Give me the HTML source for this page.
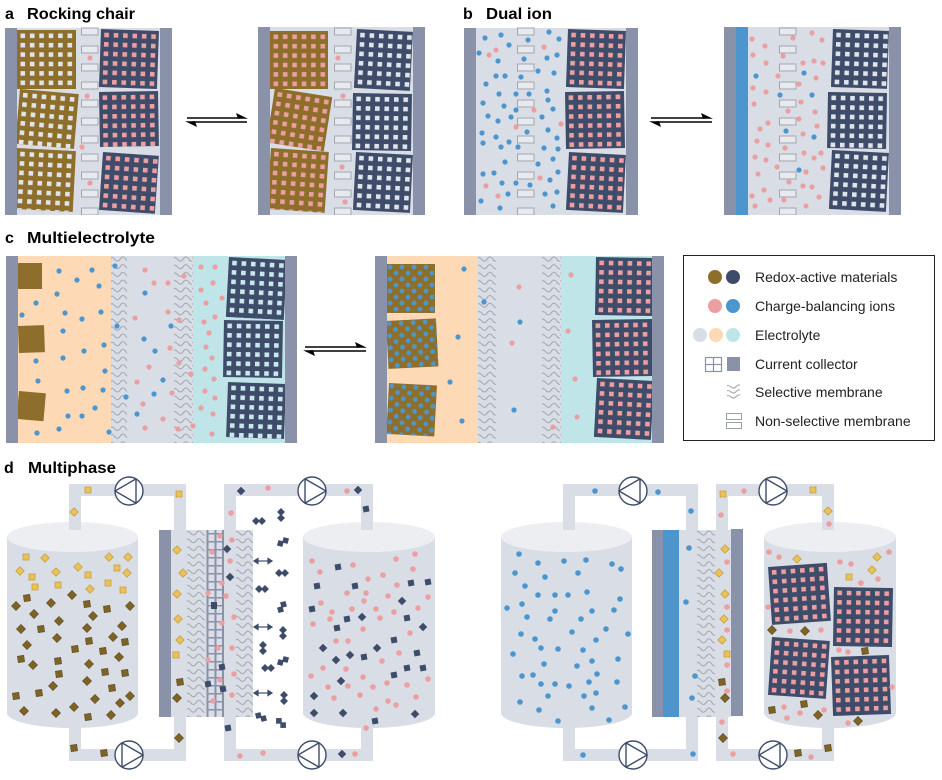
<!DOCTYPE html>
<html><head><meta charset="utf-8"><style>
html,body{margin:0;padding:0;background:#fff;}
body{width:942px;height:780px;overflow:hidden;}
svg{display:block;}
text{font-family:"Liberation Sans",Arial,sans-serif;}
</style></head><body>
<svg width="942" height="780" viewBox="0 0 942 780" xmlns="http://www.w3.org/2000/svg">
<defs>
<pattern id="pL" patternUnits="userSpaceOnUse" x="3.5" y="3.5" width="9.4" height="9.4"><rect width="4.6" height="4.6" fill="#dfe3ea"/></pattern>
<pattern id="pP" patternUnits="userSpaceOnUse" x="3.5" y="3.5" width="9.4" height="9.4"><rect width="4.6" height="4.6" fill="#ec9fa1"/></pattern>
<pattern id="pC" patternUnits="userSpaceOnUse" x="3.5" y="3.5" width="9.4" height="9.4"><rect width="4.6" height="4.6" fill="#c8e8ec"/></pattern>
<pattern id="pX" patternUnits="userSpaceOnUse" width="12" height="12"><circle cx="3" cy="3" r="2.4" fill="#4c96cd"/><circle cx="9" cy="9" r="2.4" fill="#4c96cd"/></pattern>
<pattern id="zz" patternUnits="userSpaceOnUse" width="18" height="7.7"><path d="M0,2 C3,0 4,6 7,5 C10,4 9,1 12,1 C15,1 15,6 18,5" fill="none" stroke="#9a9fa8" stroke-width="0.9"/></pattern>
<pattern id="ns" patternUnits="userSpaceOnUse" width="18" height="18"><rect x="0.5" y="1" width="16.5" height="7" fill="#e6e9ee" stroke="#a2a6ad" stroke-width="1"/></pattern>
<pattern id="mesh" patternUnits="userSpaceOnUse" width="18" height="8"><rect x="0" y="3" width="18" height="1.5" fill="#8a92aa"/></pattern>
<rect id="gq" x="-3" y="-3" width="6" height="6" fill="#e9c35a" stroke="#c7a03e" stroke-width="0.8"/>
<rect id="gd" x="-3" y="-3" width="6" height="6" fill="#e9c35a" stroke="#c7a03e" stroke-width="0.8" transform="rotate(45)"/>
<rect id="bq" x="-3.2" y="-3.2" width="6.4" height="6.4" fill="#7e6327" stroke="#5f4a1c" stroke-width="0.6" transform="rotate(-8)"/>
<rect id="bd" x="-3.2" y="-3.2" width="6.4" height="6.4" fill="#7e6327" stroke="#5f4a1c" stroke-width="0.6" transform="rotate(45)"/>
<rect id="nq" x="-3" y="-3" width="6" height="6" fill="#3e4c6a" transform="rotate(-10)"/>
<rect id="nd" x="-3" y="-3" width="6" height="6" fill="#3e4c6a" transform="rotate(45)"/>
<g id="np"><rect x="-2.8" y="-2.8" width="5.6" height="5.6" fill="#3e4c6a" transform="translate(-3,0) rotate(45)"/><rect x="-2.8" y="-2.8" width="5.6" height="5.6" fill="#3e4c6a" transform="translate(3,0) rotate(45)"/></g>
<g id="pumpL"><circle r="14" fill="#fff" stroke="#3e4c6a" stroke-width="1.4"/><polygon points="-14,0 7,-12.1 7,12.1" fill="#fff" stroke="#3e4c6a" stroke-width="1.4" stroke-linejoin="round"/></g>
<g id="pumpR"><circle r="14" fill="#fff" stroke="#3e4c6a" stroke-width="1.4"/><polygon points="14,0 -7,-12.1 -7,12.1" fill="#fff" stroke="#3e4c6a" stroke-width="1.4" stroke-linejoin="round"/></g>
</defs>

<!-- Titles -->
<text x="5" y="19" font-size="16" font-weight="bold" fill="#000">a</text>
<text x="27" y="19" font-size="16" font-weight="bold" fill="#000" textLength="108" lengthAdjust="spacingAndGlyphs">Rocking chair</text>
<text x="463" y="19" font-size="16" font-weight="bold" fill="#000">b</text>
<text x="486" y="19" font-size="16" font-weight="bold" fill="#000" textLength="66" lengthAdjust="spacingAndGlyphs">Dual ion</text>
<text x="5" y="243" font-size="16" font-weight="bold" fill="#000">c</text>
<text x="27" y="243" font-size="16" font-weight="bold" fill="#000" textLength="128" lengthAdjust="spacingAndGlyphs">Multielectrolyte</text>
<text x="4" y="473" font-size="16" font-weight="bold" fill="#000">d</text>
<text x="28" y="473" font-size="16" font-weight="bold" fill="#000" textLength="88" lengthAdjust="spacingAndGlyphs">Multiphase</text>

<!-- ===== Panel a, cell 1 ===== -->
<rect x="5" y="28" width="167" height="187" fill="#d9dde6"/>
<g transform="translate(17,30)"><rect width="59" height="59" fill="#8d6e2a"/><rect width="59" height="59" fill="url(#pL)"/></g>
<g transform="translate(20,89) rotate(5)"><rect width="59" height="55" fill="#8d6e2a"/><rect width="59" height="55" fill="url(#pL)"/></g>
<g transform="translate(17,148) rotate(3)"><rect width="59" height="61" fill="#8d6e2a"/><rect width="59" height="61" fill="url(#pL)"/></g>
<g transform="translate(101,29) rotate(2)"><rect width="58" height="58" fill="#3e4c6a"/><rect width="58" height="58" fill="url(#pP)"/></g>
<g transform="translate(99,92) rotate(-1)"><rect width="59" height="55" fill="#3e4c6a"/><rect width="59" height="55" fill="url(#pP)"/></g>
<g transform="translate(103,152) rotate(4)"><rect width="56" height="58" fill="#3e4c6a"/><rect width="56" height="58" fill="url(#pP)"/></g>
<g transform="translate(81,27)"><rect width="18" height="188" fill="url(#ns)"/></g>
<g fill="#ec9fa1"><circle cx="90" cy="58" r="2.6"/><circle cx="87" cy="96" r="2.6"/><circle cx="82" cy="147" r="2.6"/><circle cx="90" cy="183" r="2.6"/></g>
<rect x="5" y="28" width="12" height="187" fill="#8a92aa"/>
<rect x="160" y="28" width="12" height="187" fill="#8a92aa"/>

<!-- arrow a -->
<g stroke="#000" stroke-width="1.5"><line x1="187" y1="118" x2="240" y2="118"/><line x1="192" y1="122" x2="247" y2="122"/></g>
<polygon points="248,118.8 236,113 238,118.8" fill="#000"/>
<polygon points="185,121.2 197,127 195,121.2" fill="#000"/>

<!-- ===== Panel a, cell 2 ===== -->
<rect x="258" y="27" width="167" height="188" fill="#d9dde6"/>
<g transform="translate(270,31)"><rect width="58" height="58" fill="#8d6e2a"/><rect width="58" height="58" fill="url(#pP)"/></g>
<g transform="translate(275,88) rotate(9)"><rect width="58" height="55" fill="#8d6e2a"/><rect width="58" height="55" fill="url(#pP)"/></g>
<g transform="translate(271,148) rotate(4)"><rect width="58" height="61" fill="#8d6e2a"/><rect width="58" height="61" fill="url(#pP)"/></g>
<g transform="translate(357,29) rotate(3)"><rect width="56" height="59" fill="#3e4c6a"/><rect width="56" height="59" fill="url(#pL)"/></g>
<g transform="translate(353,93) rotate(1)"><rect width="59" height="57" fill="#3e4c6a"/><rect width="59" height="57" fill="url(#pL)"/></g>
<g transform="translate(356,152) rotate(3)"><rect width="57" height="58" fill="#3e4c6a"/><rect width="57" height="58" fill="url(#pL)"/></g>
<g transform="translate(334,27)"><rect width="18" height="188" fill="url(#ns)"/></g>
<g fill="#ec9fa1"><circle cx="338" cy="58" r="2.6"/><circle cx="343" cy="96" r="2.6"/><circle cx="342" cy="167" r="2.6"/><circle cx="345" cy="202" r="2.6"/></g>
<rect x="258" y="27" width="12" height="188" fill="#8a92aa"/>
<rect x="413" y="27" width="12" height="188" fill="#8a92aa"/>

<!-- ===== Panel b, cell 1 ===== -->
<rect x="464" y="28" width="174" height="187" fill="#d9dde6"/>
<g transform="translate(568,29) rotate(2)"><rect width="58" height="58" fill="#3e4c6a"/><rect width="58" height="58" fill="url(#pP)"/></g>
<g transform="translate(565,92) rotate(-1)"><rect width="59" height="57" fill="#3e4c6a"/><rect width="59" height="57" fill="url(#pP)"/></g>
<g transform="translate(569,152) rotate(3)"><rect width="57" height="58" fill="#3e4c6a"/><rect width="57" height="58" fill="url(#pP)"/></g>
<g transform="translate(517,27)"><rect width="18" height="188" fill="url(#ns)"/></g>
<g fill="#4c96cd">
<circle cx="485" cy="38" r="2.6"/><circle cx="501" cy="35" r="2.6"/><circle cx="509" cy="45" r="2.6"/><circle cx="528" cy="40" r="2.6"/><circle cx="549" cy="32" r="2.6"/><circle cx="559" cy="39" r="2.6"/><circle cx="479" cy="53" r="2.6"/><circle cx="498" cy="61" r="2.6"/><circle cx="524" cy="59" r="2.6"/><circle cx="547" cy="58" r="2.6"/><circle cx="557" cy="55" r="2.6"/><circle cx="496" cy="76" r="2.6"/><circle cx="505" cy="76" r="2.6"/><circle cx="521" cy="77" r="2.6"/><circle cx="538" cy="71" r="2.6"/><circle cx="554" cy="73" r="2.6"/><circle cx="486" cy="84" r="2.6"/><circle cx="499" cy="94" r="2.6"/><circle cx="516" cy="94" r="2.6"/><circle cx="529" cy="94" r="2.6"/><circle cx="547" cy="91" r="2.6"/><circle cx="483" cy="103" r="2.6"/><circle cx="504" cy="106" r="2.6"/><circle cx="516" cy="110" r="2.6"/><circle cx="548" cy="100" r="2.6"/><circle cx="553" cy="109" r="2.6"/><circle cx="488" cy="116" r="2.6"/><circle cx="498" cy="121" r="2.6"/><circle cx="511" cy="117" r="2.6"/><circle cx="542" cy="117" r="2.6"/><circle cx="482" cy="133" r="2.6"/><circle cx="496" cy="137" r="2.6"/><circle cx="509" cy="142" r="2.6"/><circle cx="527" cy="132" r="2.6"/><circle cx="548" cy="130" r="2.6"/><circle cx="483" cy="143" r="2.6"/><circle cx="501" cy="147" r="2.6"/><circle cx="518" cy="147" r="2.6"/><circle cx="544" cy="148" r="2.6"/><circle cx="557" cy="138" r="2.6"/><circle cx="558" cy="149" r="2.6"/><circle cx="505" cy="162" r="2.6"/><circle cx="538" cy="164" r="2.6"/><circle cx="553" cy="159" r="2.6"/><circle cx="483" cy="174" r="2.6"/><circle cx="494" cy="173" r="2.6"/><circle cx="502" cy="183" r="2.6"/><circle cx="516" cy="183" r="2.6"/><circle cx="530" cy="185" r="2.6"/><circle cx="550" cy="180" r="2.6"/><circle cx="558" cy="172" r="2.6"/><circle cx="481" cy="201" r="2.6"/><circle cx="508" cy="194" r="2.6"/><circle cx="545" cy="194" r="2.6"/><circle cx="557" cy="192" r="2.6"/><circle cx="500" cy="208" r="2.6"/><circle cx="553" cy="206" r="2.6"/>
</g>
<g fill="#ec9fa1"><circle cx="489" cy="55" r="2.6"/><circle cx="496" cy="50" r="2.6"/><circle cx="544" cy="47" r="2.6"/><circle cx="534" cy="110" r="2.6"/><circle cx="516" cy="127" r="2.6"/><circle cx="561" cy="124" r="2.6"/><circle cx="540" cy="178" r="2.6"/><circle cx="486" cy="186" r="2.6"/><circle cx="498" cy="196" r="2.6"/></g>
<rect x="464" y="28" width="12" height="187" fill="#8a92aa"/>
<rect x="626" y="28" width="12" height="187" fill="#8a92aa"/>

<!-- arrow b -->
<g stroke="#000" stroke-width="1.5"><line x1="651" y1="118" x2="705" y2="118"/><line x1="656" y1="122" x2="712" y2="122"/></g>
<polygon points="713,118.8 701,113 703,118.8" fill="#000"/>
<polygon points="649,121.2 661,127 659,121.2" fill="#000"/>

<!-- ===== Panel b, cell 2 ===== -->
<rect x="724" y="27" width="177" height="188" fill="#d9dde6"/>
<rect x="736" y="27" width="12" height="188" fill="#4c96cd"/>
<g transform="translate(833,29) rotate(2)"><rect width="56" height="58" fill="#3e4c6a"/><rect width="56" height="58" fill="url(#pL)"/></g>
<g transform="translate(828,92) rotate(1)"><rect width="59" height="56" fill="#3e4c6a"/><rect width="59" height="56" fill="url(#pL)"/></g>
<g transform="translate(832,150) rotate(3)"><rect width="57" height="59" fill="#3e4c6a"/><rect width="57" height="59" fill="url(#pL)"/></g>
<g transform="translate(779,27)"><rect width="18" height="188" fill="url(#ns)"/></g>
<g fill="#ec9fa1">
<circle cx="752" cy="39" r="2.6"/><circle cx="765" cy="46" r="2.6"/><circle cx="753" cy="55" r="2.6"/><circle cx="766" cy="63" r="2.6"/><circle cx="778" cy="76" r="2.6"/><circle cx="753" cy="88" r="2.6"/><circle cx="766" cy="92" r="2.6"/><circle cx="754" cy="104" r="2.6"/><circle cx="793" cy="38" r="2.6"/><circle cx="812" cy="33" r="2.6"/><circle cx="822" cy="40" r="2.6"/><circle cx="783" cy="56" r="2.6"/><circle cx="803" cy="63" r="2.6"/><circle cx="814" cy="61" r="2.6"/><circle cx="823" cy="63" r="2.6"/><circle cx="816" cy="78" r="2.6"/><circle cx="799" cy="84" r="2.6"/><circle cx="801" cy="102" r="2.6"/><circle cx="788" cy="111" r="2.6"/><circle cx="815" cy="112" r="2.6"/><circle cx="799" cy="119" r="2.6"/><circle cx="817" cy="126" r="2.6"/><circle cx="768" cy="123" r="2.6"/><circle cx="760" cy="129" r="2.6"/><circle cx="803" cy="134" r="2.6"/><circle cx="757" cy="141" r="2.6"/><circle cx="768" cy="145" r="2.6"/><circle cx="785" cy="148" r="2.6"/><circle cx="804" cy="153" r="2.6"/><circle cx="821" cy="153" r="2.6"/><circle cx="814" cy="158" r="2.6"/><circle cx="755" cy="157" r="2.6"/><circle cx="766" cy="160" r="2.6"/><circle cx="777" cy="167" r="2.6"/><circle cx="806" cy="172" r="2.6"/><circle cx="823" cy="168" r="2.6"/><circle cx="758" cy="174" r="2.6"/><circle cx="789" cy="182" r="2.6"/><circle cx="803" cy="186" r="2.6"/><circle cx="812" cy="187" r="2.6"/><circle cx="764" cy="190" r="2.6"/><circle cx="752" cy="196" r="2.6"/><circle cx="770" cy="200" r="2.6"/><circle cx="784" cy="200" r="2.6"/><circle cx="819" cy="197" r="2.6"/><circle cx="755" cy="206" r="2.6"/><circle cx="806" cy="206" r="2.6"/>
</g>
<g fill="#4c96cd"><circle cx="756" cy="76" r="2.6"/><circle cx="804" cy="73" r="2.6"/><circle cx="780" cy="95" r="2.6"/><circle cx="812" cy="95" r="2.6"/><circle cx="786" cy="131" r="2.6"/><circle cx="814" cy="137" r="2.6"/><circle cx="799" cy="170" r="2.6"/></g>
<rect x="724" y="27" width="12" height="188" fill="#8a92aa"/>
<rect x="889" y="27" width="12" height="188" fill="#8a92aa"/>

<!-- ===== Panel c, cell 1 ===== -->
<rect x="6" y="256" width="291" height="187" fill="#d9dde6"/>
<rect x="18" y="256" width="93" height="187" fill="#fdd9b5"/>
<rect x="193" y="256" width="92" height="187" fill="#bfe5e8"/>
<g transform="translate(111,256)"><rect width="16" height="187" fill="url(#zz)"/></g>
<g transform="translate(174,256)"><rect width="19" height="187" fill="url(#zz)"/></g>
<rect x="18" y="263" width="24" height="26" fill="#8d6e2a"/>
<g transform="translate(18,326) rotate(-2)"><rect width="26" height="27" fill="#8d6e2a"/></g>
<g transform="translate(19,391) rotate(5)"><rect width="27" height="28" fill="#8d6e2a"/></g>
<g transform="translate(229,257) rotate(3)"><rect width="58" height="60" fill="#3e4c6a"/><rect width="58" height="60" fill="url(#pC)"/></g>
<g transform="translate(224,320) rotate(1)"><rect width="59" height="57" fill="#3e4c6a"/><rect width="59" height="57" fill="url(#pC)"/></g>
<g transform="translate(228,382) rotate(2)"><rect width="58" height="55" fill="#3e4c6a"/><rect width="58" height="55" fill="url(#pC)"/></g>
<g fill="#4c96cd">
<circle cx="59" cy="271" r="2.6"/><circle cx="77" cy="280" r="2.6"/><circle cx="92" cy="270" r="2.6"/><circle cx="99" cy="286" r="2.6"/><circle cx="57" cy="294" r="2.6"/><circle cx="36" cy="303" r="2.6"/><circle cx="65" cy="313" r="2.6"/><circle cx="82" cy="319" r="2.6"/><circle cx="101" cy="312" r="2.6"/><circle cx="22" cy="315" r="2.6"/><circle cx="63" cy="331" r="2.6"/><circle cx="84" cy="351" r="2.6"/><circle cx="104" cy="345" r="2.6"/><circle cx="36" cy="361" r="2.6"/><circle cx="63" cy="358" r="2.6"/><circle cx="105" cy="371" r="2.6"/><circle cx="38" cy="381" r="2.6"/><circle cx="67" cy="391" r="2.6"/><circle cx="83" cy="388" r="2.6"/><circle cx="103" cy="390" r="2.6"/><circle cx="95" cy="408" r="2.6"/><circle cx="68" cy="416" r="2.6"/><circle cx="82" cy="416" r="2.6"/><circle cx="37" cy="433" r="2.6"/><circle cx="59" cy="429" r="2.6"/><circle cx="109" cy="432" r="2.6"/>
<circle cx="115" cy="266" r="2.6"/><circle cx="117" cy="326" r="2.6"/><circle cx="126" cy="397" r="2.6"/><circle cx="171" cy="326" r="2.6"/>
<circle cx="145" cy="293" r="2.6"/><circle cx="144" cy="339" r="2.6"/><circle cx="155" cy="351" r="2.6"/><circle cx="163" cy="380" r="2.6"/><circle cx="154" cy="394" r="2.6"/><circle cx="137" cy="414" r="2.6"/>
</g>
<g fill="#ec9fa1">
<circle cx="145" cy="270" r="2.6"/><circle cx="154" cy="283" r="2.6"/><circle cx="168" cy="283" r="2.6"/><circle cx="168" cy="312" r="2.6"/><circle cx="135" cy="318" r="2.6"/><circle cx="179" cy="320" r="2.6"/><circle cx="170" cy="348" r="2.6"/><circle cx="149" cy="367" r="2.6"/><circle cx="179" cy="363" r="2.6"/><circle cx="137" cy="382" r="2.6"/><circle cx="191" cy="374" r="2.6"/><circle cx="172" cy="393" r="2.6"/><circle cx="143" cy="404" r="2.6"/><circle cx="163" cy="419" r="2.6"/><circle cx="145" cy="428" r="2.6"/><circle cx="178" cy="429" r="2.6"/><circle cx="184" cy="276" r="2.6"/>
<circle cx="201" cy="267" r="2.6"/><circle cx="215" cy="267" r="2.6"/><circle cx="213" cy="283" r="2.6"/><circle cx="201" cy="290" r="2.6"/><circle cx="222" cy="298" r="2.6"/><circle cx="206" cy="303" r="2.6"/><circle cx="215" cy="317" r="2.6"/><circle cx="204" cy="322" r="2.6"/><circle cx="209" cy="333" r="2.6"/><circle cx="206" cy="347" r="2.6"/><circle cx="212" cy="358" r="2.6"/><circle cx="205" cy="369" r="2.6"/><circle cx="214" cy="379" r="2.6"/><circle cx="205" cy="391" r="2.6"/><circle cx="215" cy="398" r="2.6"/><circle cx="201" cy="408" r="2.6"/><circle cx="213" cy="414" r="2.6"/><circle cx="193" cy="426" r="2.6"/><circle cx="212" cy="434" r="2.6"/>
</g>
<rect x="6" y="256" width="12" height="187" fill="#8a92aa"/>
<rect x="285" y="256" width="12" height="187" fill="#8a92aa"/>

<!-- arrow c -->
<g stroke="#000" stroke-width="1.5"><line x1="305" y1="347" x2="359" y2="347"/><line x1="310" y1="351" x2="366" y2="351"/></g>
<polygon points="367,347.8 355,342 357,347.8" fill="#000"/>
<polygon points="303,350.2 315,356 313,350.2" fill="#000"/>

<!-- ===== Panel c, cell 2 ===== -->
<rect x="375" y="256" width="289" height="187" fill="#d9dde6"/>
<rect x="387" y="256" width="91" height="187" fill="#fdd9b5"/>
<rect x="561" y="256" width="91" height="187" fill="#bfe5e8"/>
<g transform="translate(478,256)"><rect width="18" height="187" fill="url(#zz)"/></g>
<g transform="translate(542,256)"><rect width="19" height="187" fill="url(#zz)"/></g>
<g transform="translate(387,264)"><rect width="48" height="49" fill="#8d6e2a"/><rect width="48" height="49" fill="url(#pX)"/></g>
<g transform="translate(386,321) rotate(-3)"><rect width="50" height="48" fill="#8d6e2a"/><rect width="50" height="48" fill="url(#pX)"/></g>
<g transform="translate(389,383) rotate(3)"><rect width="48" height="51" fill="#8d6e2a"/><rect width="48" height="51" fill="url(#pX)"/></g>
<g transform="translate(596,257) rotate(1)"><rect width="57" height="58" fill="#3e4c6a"/><rect width="57" height="58" fill="url(#pP)"/></g>
<g transform="translate(592,320) rotate(-1)"><rect width="60" height="57" fill="#3e4c6a"/><rect width="60" height="57" fill="url(#pP)"/></g>
<g transform="translate(597,378) rotate(3)"><rect width="57" height="59" fill="#3e4c6a"/><rect width="57" height="59" fill="url(#pP)"/></g>
<g fill="#4c96cd"><circle cx="464" cy="269" r="2.6"/><circle cx="458" cy="337" r="2.6"/><circle cx="450" cy="382" r="2.6"/><circle cx="462" cy="421" r="2.6"/><circle cx="484" cy="302" r="2.6"/><circle cx="520" cy="322" r="2.6"/><circle cx="514" cy="410" r="2.6"/></g>
<g fill="#ec9fa1"><circle cx="519" cy="287" r="2.6"/><circle cx="512" cy="343" r="2.6"/><circle cx="553" cy="427" r="2.6"/><circle cx="571" cy="275" r="2.6"/><circle cx="568" cy="331" r="2.6"/><circle cx="575" cy="379" r="2.6"/><circle cx="577" cy="417" r="2.6"/></g>
<rect x="375" y="256" width="12" height="187" fill="#8a92aa"/>
<rect x="652" y="256" width="12" height="187" fill="#8a92aa"/>

<!-- ===== Legend ===== -->
<rect x="683.5" y="255.5" width="251" height="185" fill="#fff" stroke="#222" stroke-width="1"/>
<circle cx="715" cy="277" r="7" fill="#8d6e2a"/><circle cx="733" cy="277" r="7" fill="#3e4c6a"/>
<circle cx="715" cy="306" r="7" fill="#ec9fa1"/><circle cx="733" cy="306" r="7" fill="#4c96cd"/>
<circle cx="700" cy="335" r="7" fill="#d9dde6"/><circle cx="716" cy="335" r="7" fill="#fdd9b5"/><circle cx="733" cy="335" r="7" fill="#bfe5e8"/>
<g fill="none" stroke="#8a92aa" stroke-width="1.2"><rect x="705.5" y="357.5" width="16" height="14"/><line x1="713.5" y1="357.5" x2="713.5" y2="371.5"/><line x1="705.5" y1="364.5" x2="721.5" y2="364.5"/></g>
<rect x="727" y="357" width="13" height="14" fill="#8a92aa"/>
<g fill="none" stroke="#9a9fa8" stroke-width="1"><path d="M727,386 C730,384 731,389 734,388 C737,387 737,384 740,385"/><path d="M727,391 C730,389 731,394 734,393 C737,392 737,389 740,390"/><path d="M727,396 C730,394 731,399 734,398 C737,397 737,394 740,395"/></g>
<g fill="none" stroke="#9a9fa8" stroke-width="1"><rect x="726.5" y="413.5" width="15" height="6"/><rect x="726.5" y="422.5" width="15" height="6"/></g>
<g font-size="14" fill="#222">
<text x="755" y="282">Redox-active materials</text>
<text x="755" y="311">Charge-balancing ions</text>
<text x="755" y="340">Electrolyte</text>
<text x="755" y="369">Current collector</text>
<text x="755" y="397">Selective membrane</text>
<text x="755" y="426">Non-selective membrane</text>
</g>

<!-- ===== Panel d ===== -->
<!-- tanks -->
<g fill="#d9dde6">
<rect x="7" y="537" width="131" height="176"/><ellipse cx="72.5" cy="713" rx="65.5" ry="15"/>
<rect x="303" y="537" width="132" height="176"/><ellipse cx="369" cy="713" rx="66" ry="15"/>
<rect x="501" y="537" width="131" height="176"/><ellipse cx="566.5" cy="713" rx="65.5" ry="15"/>
<rect x="764" y="537" width="132" height="176"/><ellipse cx="830" cy="713" rx="66" ry="15"/>
</g>
<g fill="#edeef1">
<ellipse cx="72.5" cy="537" rx="65.5" ry="15"/>
<ellipse cx="369" cy="537" rx="66" ry="15"/>
<ellipse cx="566.5" cy="537" rx="65.5" ry="15"/>
<ellipse cx="830" cy="537" rx="66" ry="15"/>
</g>
<!-- pipes -->
<g fill="none" stroke="#d9dde6" stroke-width="12" stroke-linejoin="miter">
<polyline points="75,530 75,490 180,490 180,531"/>
<polyline points="75,712 75,755 180,755 180,716"/>
<polyline points="230,531 230,490 367,490 367,530"/>
<polyline points="230,716 230,755 367,755 367,712"/>
<polyline points="569,530 569,490 692,490 692,531"/>
<polyline points="569,712 569,755 692,755 692,716"/>
<polyline points="722,531 722,490 828,490 828,530"/>
<polyline points="722,716 722,755 828,755 828,712"/>
</g>
<!-- pumps -->
<use href="#pumpL" x="129" y="491"/>
<use href="#pumpR" x="129" y="755"/>
<use href="#pumpR" x="312" y="491"/>
<use href="#pumpL" x="312" y="755"/>
<use href="#pumpL" x="633" y="491"/>
<use href="#pumpR" x="633" y="755"/>
<use href="#pumpR" x="773" y="491"/>
<use href="#pumpL" x="773" y="755"/>

<!-- cell d1 -->
<rect x="171" y="530" width="82" height="187" fill="#d9dde6"/>
<g transform="translate(187,530)"><rect width="18" height="187" fill="url(#zz)"/></g>
<g transform="translate(236,530)"><rect width="17" height="187" fill="url(#zz)"/></g>
<g transform="translate(207,530)"><rect width="17" height="187" fill="url(#mesh)"/></g>
<g fill="#8a92aa"><rect x="206.5" y="530" width="2" height="187"/><rect x="214.5" y="530" width="2" height="187"/><rect x="222" y="530" width="2" height="187"/></g>
<rect x="159" y="530" width="12" height="187" fill="#8a92aa"/>

<!-- cell d2 -->
<rect x="679" y="530" width="52" height="187" fill="#d9dde6"/>
<rect x="663" y="530" width="16" height="187" fill="#4c96cd"/>
<g transform="translate(697,530)"><rect width="18" height="187" fill="url(#zz)"/></g>
<rect x="652" y="530" width="11" height="187" fill="#8a92aa"/>
<rect x="731" y="529" width="12" height="187" fill="#8a92aa"/>

<!-- d1 particles: left tank -->
<g>
<use href="#gq" x="26" y="557"/><use href="#gd" x="45" y="558"/><use href="#gd" x="20" y="571"/><use href="#gq" x="32" y="577"/><use href="#gq" x="35" y="587"/><use href="#gd" x="56" y="572"/><use href="#gq" x="58" y="585"/><use href="#gd" x="78" y="567"/><use href="#gq" x="88" y="575"/><use href="#gd" x="90" y="589"/><use href="#gd" x="109" y="557"/><use href="#gd" x="128" y="557"/><use href="#gq" x="117" y="568"/><use href="#gd" x="127" y="573"/><use href="#gq" x="108" y="583"/><use href="#gq" x="123" y="590"/>
<use href="#bd" x="16" y="606"/><use href="#bq" x="27" y="598"/><use href="#bd" x="34" y="614"/><use href="#bd" x="51" y="603"/><use href="#bd" x="72" y="595"/><use href="#bq" x="87" y="604"/><use href="#bd" x="93" y="616"/><use href="#bq" x="107" y="609"/><use href="#bd" x="130" y="606"/><use href="#bd" x="21" y="629"/><use href="#bq" x="41" y="629"/><use href="#bd" x="59" y="621"/><use href="#bd" x="57" y="638"/><use href="#bd" x="87" y="628"/><use href="#bq" x="89" y="641"/><use href="#bd" x="113" y="637"/><use href="#bd" x="122" y="626"/><use href="#bq" x="125" y="642"/><use href="#bd" x="27" y="645"/><use href="#bq" x="21" y="659"/><use href="#bd" x="33" y="665"/><use href="#bq" x="58" y="661"/><use href="#bq" x="59" y="674"/><use href="#bq" x="75" y="649"/><use href="#bq" x="103" y="651"/><use href="#bd" x="119" y="657"/><use href="#bd" x="89" y="664"/><use href="#bq" x="105" y="672"/><use href="#bq" x="125" y="673"/><use href="#bd" x="53" y="686"/><use href="#bq" x="39" y="693"/><use href="#bd" x="87" y="681"/><use href="#bq" x="112" y="688"/><use href="#bq" x="16" y="696"/><use href="#bd" x="24" y="711"/><use href="#bd" x="56" y="713"/><use href="#bd" x="74" y="707"/><use href="#bd" x="95" y="699"/><use href="#bq" x="88" y="717"/><use href="#bd" x="111" y="715"/><use href="#bd" x="120" y="703"/><use href="#bd" x="130" y="696"/>
<use href="#gq" x="88" y="490"/><use href="#gd" x="74" y="512"/><use href="#gq" x="179" y="494"/>
<use href="#bq" x="74" y="748"/><use href="#bq" x="104" y="753"/><use href="#bd" x="179" y="738"/>
<use href="#gd" x="177" y="550"/><use href="#gd" x="183" y="573"/><use href="#gd" x="177" y="594"/><use href="#gd" x="178" y="619"/><use href="#gd" x="180" y="640"/><use href="#gq" x="176" y="655"/><use href="#bq" x="180" y="682"/><use href="#bd" x="177" y="698"/>
</g>
<!-- d1 mesh/channel particles -->
<g fill="#ec9fa1">
<circle cx="220" cy="536" r="2.7"/><circle cx="212" cy="552" r="2.7"/><circle cx="208" cy="593" r="2.7"/><circle cx="222" cy="583" r="2.7"/><circle cx="208" cy="660" r="2.7"/><circle cx="222" cy="623" r="2.7"/><circle cx="218" cy="648" r="2.7"/><circle cx="220" cy="680" r="2.7"/><circle cx="213" cy="701" r="2.7"/>
<circle cx="232" cy="540" r="2.8"/><circle cx="230" cy="561" r="2.8"/><circle cx="234" cy="617" r="2.8"/><circle cx="232" cy="648" r="2.8"/><circle cx="234" cy="674" r="2.8"/><circle cx="232" cy="695" r="2.8"/><circle cx="226" cy="596" r="2.8"/>
<circle cx="268" cy="488" r="2.8"/><circle cx="231" cy="513" r="2.8"/><circle cx="347" cy="491" r="2.8"/><circle cx="240" cy="756" r="2.8"/><circle cx="263" cy="753" r="2.8"/><circle cx="355" cy="754" r="2.8"/>
</g>
<g>
<rect x="211" y="602" width="6" height="7" fill="#3e4c6a"/>
<use href="#nq" x="222" y="667"/><use href="#nq" x="208" y="684"/><use href="#nq" x="223" y="689"/>
<use href="#nd" x="227" y="549"/><use href="#nd" x="230" y="577"/>
<use href="#nd" x="241" y="491"/><use href="#nd" x="358" y="490"/><use href="#nq" x="366" y="509"/><use href="#nq" x="228" y="728"/><use href="#nd" x="342" y="754"/>
</g>
<!-- double arrows -->
<g stroke="#3e4c6a" stroke-width="1.2" fill="#3e4c6a">
<line x1="256" y1="561" x2="270" y2="561"/><polygon points="254,561 258,558.5 258,563.5"/><polygon points="272,561 268,558.5 268,563.5"/>
<line x1="256" y1="627" x2="270" y2="627"/><polygon points="254,627 258,624.5 258,629.5"/><polygon points="272,627 268,624.5 268,629.5"/>
<line x1="256" y1="693" x2="270" y2="693"/><polygon points="254,693 258,690.5 258,695.5"/><polygon points="272,693 268,690.5 268,695.5"/>
</g>
<!-- navy pairs in white region -->
<g>
<use href="#np" transform="translate(259,521)"/><use href="#np" transform="translate(281,515) rotate(90)"/><use href="#np" transform="translate(283,542) rotate(-30)"/><use href="#np" transform="translate(282,573)"/><use href="#np" transform="translate(262,589)"/><use href="#np" transform="translate(282,607) rotate(-60)"/><use href="#np" transform="translate(283,633) rotate(90)"/><use href="#np" transform="translate(263,648) rotate(90)"/><use href="#np" transform="translate(268,668)"/><use href="#np" transform="translate(283,661) rotate(-30)"/><use href="#np" transform="translate(284,698) rotate(90)"/><use href="#np" transform="translate(261,717) rotate(30)"/><use href="#np" transform="translate(281,723) rotate(45)"/>
</g>
<!-- d1 right tank -->
<g fill="#ec9fa1">
<circle cx="312" cy="561" r="2.8"/><circle cx="320" cy="572" r="2.8"/><circle cx="353" cy="565" r="2.8"/><circle cx="396" cy="559" r="2.8"/><circle cx="415" cy="554" r="2.8"/><circle cx="413" cy="569" r="2.8"/><circle cx="383" cy="575" r="2.8"/><circle cx="368" cy="579" r="2.8"/><circle cx="397" cy="585" r="2.8"/><circle cx="347" cy="593" r="2.8"/><circle cx="366" cy="593" r="2.8"/><circle cx="364" cy="601" r="2.8"/><circle cx="388" cy="596" r="2.8"/><circle cx="428" cy="597" r="2.8"/><circle cx="321" cy="603" r="2.8"/><circle cx="352" cy="609" r="2.8"/><circle cx="376" cy="609" r="2.8"/><circle cx="394" cy="612" r="2.8"/><circle cx="418" cy="608" r="2.8"/><circle cx="332" cy="612" r="2.8"/><circle cx="330" cy="619" r="2.8"/><circle cx="380" cy="618" r="2.8"/><circle cx="313" cy="624" r="2.8"/><circle cx="363" cy="629" r="2.8"/><circle cx="410" cy="633" r="2.8"/><circle cx="336" cy="641" r="2.8"/><circle cx="348" cy="641" r="2.8"/><circle cx="399" cy="653" r="2.8"/><circle cx="382" cy="661" r="2.8"/><circle cx="323" cy="668" r="2.8"/><circle cx="346" cy="669" r="2.8"/><circle cx="311" cy="676" r="2.8"/><circle cx="363" cy="677" r="2.8"/><circle cx="387" cy="683" r="2.8"/><circle cx="407" cy="685" r="2.8"/><circle cx="428" cy="679" r="2.8"/><circle cx="328" cy="687" r="2.8"/><circle cx="348" cy="686" r="2.8"/><circle cx="373" cy="687" r="2.8"/><circle cx="360" cy="695" r="2.8"/><circle cx="334" cy="698" r="2.8"/><circle cx="388" cy="701" r="2.8"/><circle cx="396" cy="705" r="2.8"/><circle cx="416" cy="697" r="2.8"/><circle cx="376" cy="709" r="2.8"/><circle cx="366" cy="728" r="2.8"/>
</g>
<g>
<use href="#nq" x="338" y="567"/><use href="#nq" x="317" y="586"/><use href="#nq" x="355" y="586"/><use href="#nq" x="411" y="583"/><use href="#nq" x="428" y="582"/><use href="#nd" x="402" y="601"/><use href="#nq" x="312" y="609"/><use href="#nq" x="337" y="628"/><use href="#nq" x="347" y="619"/><use href="#nd" x="362" y="617"/><use href="#nq" x="407" y="618"/><use href="#nd" x="423" y="627"/><use href="#nd" x="323" y="648"/><use href="#nd" x="336" y="660"/><use href="#nd" x="350" y="655"/><use href="#nq" x="364" y="657"/><use href="#nd" x="377" y="648"/><use href="#nq" x="394" y="640"/><use href="#nq" x="417" y="653"/><use href="#nq" x="407" y="668"/><use href="#nq" x="423" y="668"/><use href="#nq" x="394" y="675"/><use href="#nd" x="341" y="681"/><use href="#nd" x="314" y="696"/><use href="#nd" x="314" y="713"/><use href="#nd" x="343" y="713"/><use href="#nq" x="375" y="721"/><use href="#nd" x="415" y="714"/>
</g>

<!-- d2 left tank blue -->
<g fill="#4c96cd">
<circle cx="519" cy="554" r="2.8"/><circle cx="538" cy="563" r="2.8"/><circle cx="564" cy="561" r="2.8"/><circle cx="586" cy="560" r="2.8"/><circle cx="612" cy="564" r="2.8"/><circle cx="621" cy="569" r="2.8"/><circle cx="515" cy="573" r="2.8"/><circle cx="545" cy="577" r="2.8"/><circle cx="578" cy="573" r="2.8"/><circle cx="525" cy="586" r="2.8"/><circle cx="538" cy="595" r="2.8"/><circle cx="555" cy="595" r="2.8"/><circle cx="568" cy="595" r="2.8"/><circle cx="587" cy="592" r="2.8"/><circle cx="620" cy="599" r="2.8"/><circle cx="507" cy="608" r="2.8"/><circle cx="522" cy="604" r="2.8"/><circle cx="527" cy="617" r="2.8"/><circle cx="550" cy="619" r="2.8"/><circle cx="555" cy="611" r="2.8"/><circle cx="581" cy="619" r="2.8"/><circle cx="592" cy="611" r="2.8"/><circle cx="614" cy="610" r="2.8"/><circle cx="521" cy="634" r="2.8"/><circle cx="535" cy="639" r="2.8"/><circle cx="572" cy="632" r="2.8"/><circle cx="596" cy="640" r="2.8"/><circle cx="606" cy="629" r="2.8"/><circle cx="628" cy="634" r="2.8"/><circle cx="513" cy="654" r="2.8"/><circle cx="541" cy="648" r="2.8"/><circle cx="558" cy="649" r="2.8"/><circle cx="583" cy="650" r="2.8"/><circle cx="544" cy="664" r="2.8"/><circle cx="577" cy="666" r="2.8"/><circle cx="592" cy="661" r="2.8"/><circle cx="618" cy="659" r="2.8"/><circle cx="522" cy="676" r="2.8"/><circle cx="533" cy="675" r="2.8"/><circle cx="541" cy="684" r="2.8"/><circle cx="555" cy="684" r="2.8"/><circle cx="569" cy="686" r="2.8"/><circle cx="589" cy="682" r="2.8"/><circle cx="597" cy="674" r="2.8"/><circle cx="617" cy="682" r="2.8"/><circle cx="548" cy="696" r="2.8"/><circle cx="584" cy="696" r="2.8"/><circle cx="596" cy="693" r="2.8"/><circle cx="520" cy="702" r="2.8"/><circle cx="539" cy="710" r="2.8"/><circle cx="592" cy="708" r="2.8"/><circle cx="625" cy="707" r="2.8"/><circle cx="558" cy="721" r="2.8"/><circle cx="609" cy="720" r="2.8"/>
<circle cx="595" cy="491" r="2.8"/><circle cx="658" cy="492" r="2.8"/><circle cx="691" cy="511" r="2.8"/><circle cx="689" cy="548" r="2.8"/><circle cx="686" cy="602" r="2.8"/><circle cx="695" cy="676" r="2.8"/><circle cx="692" cy="698" r="2.8"/><circle cx="583" cy="755" r="2.8"/><circle cx="693" cy="754" r="2.8"/>
</g>

<!-- d2 right tank blocks -->
<g transform="translate(768,567) rotate(-4)"><rect width="59" height="58" fill="#3e4c6a"/><rect width="59" height="58" fill="url(#pP)"/></g>
<g transform="translate(834,587) rotate(1)"><rect width="59" height="59" fill="#3e4c6a"/><rect width="59" height="59" fill="url(#pP)"/></g>
<g transform="translate(772,637) rotate(4)"><rect width="58" height="58" fill="#3e4c6a"/><rect width="58" height="58" fill="url(#pP)"/></g>
<g transform="translate(831,657) rotate(-2)"><rect width="58" height="59" fill="#3e4c6a"/><rect width="58" height="59" fill="url(#pP)"/></g>

<!-- d2 particles -->
<g fill="#ec9fa1">
<circle cx="727" cy="562" r="2.8"/><circle cx="727" cy="607" r="2.8"/><circle cx="727" cy="630" r="2.8"/><circle cx="727" cy="665" r="2.8"/><circle cx="727" cy="691" r="2.8"/>
<circle cx="744" cy="491" r="2.8"/><circle cx="721" cy="515" r="2.8"/><circle cx="829" cy="524" r="2.8"/><circle cx="722" cy="722" r="2.8"/><circle cx="733" cy="754" r="2.8"/><circle cx="811" cy="757" r="2.8"/>
<circle cx="769" cy="552" r="2.8"/><circle cx="779" cy="557" r="2.8"/><circle cx="840" cy="562" r="2.8"/><circle cx="851" cy="564" r="2.8"/><circle cx="889" cy="552" r="2.8"/><circle cx="861" cy="583" r="2.8"/><circle cx="878" cy="579" r="2.8"/><circle cx="768" cy="607" r="2.8"/><circle cx="790" cy="631" r="2.8"/><circle cx="821" cy="630" r="2.8"/><circle cx="839" cy="650" r="2.8"/><circle cx="848" cy="652" r="2.8"/><circle cx="892" cy="687" r="2.8"/><circle cx="784" cy="707" r="2.8"/><circle cx="800" cy="713" r="2.8"/><circle cx="787" cy="718" r="2.8"/><circle cx="824" cy="710" r="2.8"/><circle cx="848" cy="723" r="2.8"/>
</g>
<g>
<use href="#gd" x="725" y="549"/><use href="#gd" x="719" y="573"/><use href="#gd" x="725" y="594"/><use href="#gd" x="724" y="619"/><use href="#gd" x="722" y="640"/><use href="#gq" x="727" y="654"/><use href="#bq" x="722" y="682"/><use href="#bd" x="725" y="698"/>
<use href="#gq" x="723" y="494"/><use href="#gq" x="813" y="490"/><use href="#gd" x="828" y="511"/>
<use href="#bd" x="723" y="738"/><use href="#bq" x="798" y="753"/><use href="#bq" x="828" y="748"/>
<use href="#gd" x="797" y="559"/><use href="#gd" x="877" y="557"/><use href="#gd" x="872" y="570"/><use href="#gq" x="849" y="577"/>
<use href="#bd" x="772" y="630"/><use href="#bd" x="805" y="631"/><use href="#bq" x="865" y="651"/><use href="#bq" x="804" y="704"/><use href="#bq" x="772" y="710"/><use href="#bd" x="818" y="715"/><use href="#bd" x="858" y="721"/>
</g>
</svg>
</body></html>
